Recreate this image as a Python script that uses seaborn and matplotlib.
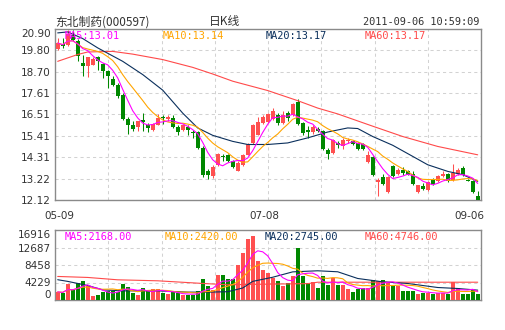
import numpy as np
import pandas as pd
import matplotlib
matplotlib.use("Agg")
import matplotlib.pyplot as plt
import seaborn as sns

# ---------------- data ----------------
opens = [19.87, 20.15, 20.10, 20.61, 20.30, 19.15, 19.02, 19.07, 19.45, 19.10,
         18.76, 18.35, 18.04, 17.53, 16.30, 15.95, 15.87, 16.23, 15.99, 15.70,
         15.95, 16.35, 16.30, 16.33, 15.85, 15.70, 15.87, 15.58, 15.61, 14.79,
         13.59, 13.33, 13.90, 14.38, 14.41, 14.11, 13.63, 13.90, 14.45, 15.05,
         15.47, 16.07, 16.13, 16.30, 16.47, 16.07, 16.59, 16.47, 17.15, 16.07,
         15.73, 15.61, 15.76, 15.68, 14.70, 14.53, 15.05, 14.88, 15.13, 15.17,
         15.05, 15.00, 14.07, 14.31, 13.04, 13.28, 12.53, 13.85, 13.45, 13.68,
         13.63, 13.45, 12.53, 12.84, 12.65, 13.16, 13.08, 13.33, 13.45, 13.16,
         13.45, 13.76, 13.16, 13.11, 12.31]
highs = [20.45, 20.44, 20.87, 20.87, 20.40, 19.58, 19.45, 19.45, 19.50, 19.15,
         18.81, 18.47, 18.13, 17.60, 16.37, 16.16, 16.19, 16.59, 16.07, 16.07,
         16.54, 16.47, 16.47, 16.47, 15.99, 15.99, 15.99, 15.73, 15.65, 14.88,
         13.73, 13.93, 14.53, 14.48, 14.48, 14.19, 14.11, 14.48, 15.05, 16.02,
         16.37, 16.47, 16.59, 16.84, 16.59, 16.67, 16.71, 17.10, 17.32, 16.10,
         15.90, 15.99, 15.85, 15.73, 14.79, 15.27, 15.13, 15.30, 15.30, 15.22,
         15.10, 15.05, 14.65, 14.36, 13.25, 13.45, 13.33, 13.93, 13.76, 13.80,
         13.68, 13.63, 12.91, 12.99, 13.08, 13.25, 13.42, 13.59, 13.51, 13.97,
         13.76, 13.85, 13.21, 13.16, 12.56]
lows = [19.80, 19.92, 20.05, 20.27, 19.27, 18.47, 18.42, 19.03, 18.81, 18.38,
        17.87, 17.96, 17.36, 16.25, 15.51, 15.65, 15.65, 15.65, 15.59, 15.65,
        15.95, 16.02, 16.16, 15.82, 15.47, 15.65, 15.44, 15.30, 14.75, 13.28,
        13.21, 13.25, 13.85, 14.11, 14.07, 13.76, 13.59, 13.85, 14.41, 15.00,
        15.44, 16.02, 16.07, 16.25, 15.99, 16.02, 16.16, 16.42, 15.99, 15.47,
        15.30, 15.51, 15.61, 14.70, 14.24, 14.48, 14.79, 14.75, 15.05, 14.93,
        14.70, 14.70, 14.02, 13.33, 12.31, 12.91, 12.48, 13.28, 13.42, 13.42,
        13.39, 12.91, 12.46, 12.65, 12.60, 12.91, 13.04, 13.28, 13.04, 13.11,
        13.42, 13.33, 13.08, 12.48, 12.12]
closes = [20.18, 20.01, 20.64, 20.35, 19.50, 18.98, 19.45, 19.38, 19.24, 18.76,
          18.47, 18.04, 17.44, 16.30, 15.95, 15.78, 16.19, 16.13, 15.82, 16.04,
          16.33, 16.33, 16.40, 15.85, 15.61, 15.95, 15.70, 15.56, 14.79, 13.39,
          13.39, 13.80, 14.48, 14.33, 14.11, 13.80, 14.02, 14.45, 15.00, 15.99,
          16.13, 16.37, 16.54, 16.71, 16.07, 16.47, 16.33, 17.05, 16.02, 15.56,
          15.61, 15.85, 15.68, 14.75, 14.48, 15.22, 14.93, 15.22, 15.22, 15.00,
          14.75, 14.75, 14.41, 13.39, 13.16, 12.94, 13.28, 13.33, 13.68, 13.51,
          13.42, 12.94, 12.87, 12.70, 13.04, 12.94, 13.33, 13.45, 13.08, 13.51,
          13.68, 13.39, 13.11, 12.53, 12.14]
volumes = [1960, 1720, 3830, 2380, 4150, 4560, 3340, 920, 1160, 1960,
           2210, 2210, 1960, 3830, 3180, 1580, 1160, 2790, 2210, 2540,
           2540, 1580, 1410, 1960, 1580, 1160, 1160, 1160, 2130, 5040,
           3340, 2380, 6010, 6010, 5040, 5040, 8430, 11410, 14730, 15460,
           9410, 7220, 6570, 5360, 4560, 3340, 4150, 5770, 12630, 5770,
           4000, 4390, 2790, 5770, 3590, 5200, 3590, 3590, 2540, 1960,
           2540, 3020, 3020, 4800, 4560, 4800, 4150, 3590, 3350, 2210,
           2210, 2210, 1570, 1730, 1730, 1570, 1730, 1730, 1570, 4390,
           3020, 1570, 1570, 2380, 1570]

ma20_idx = [0, 2, 5, 8, 13, 17, 21, 25, 28, 31, 35, 38, 42, 46, 50, 54, 58, 60, 63, 67, 71, 74, 78, 81, 84]
ma20_val = [20.70, 20.75, 20.41, 19.93, 19.24, 18.56, 17.76, 16.58, 15.82, 15.44, 15.13, 14.97, 14.97,
            15.05, 15.31, 15.61, 15.82, 15.79, 15.38, 14.93, 14.36, 13.93, 13.59, 13.42, 13.08]
ma60_idx = [0, 4, 6, 11, 15, 21, 27, 31, 35, 42, 48, 52, 56, 63, 69, 76, 84]
ma60_val = [19.24, 19.59, 19.72, 19.75, 19.61, 19.33, 18.93, 18.59, 18.22, 17.74, 17.22, 16.84,
            16.54, 15.91, 15.38, 14.87, 14.44]

vma20_idx = [0, 2, 6, 9, 13, 20, 26, 30, 34, 37, 39, 43, 47, 52, 56, 60, 65, 70, 76, 80, 84]
vma20_val = [4900, 4500, 3500, 2450, 2210, 2210, 1900, 1900, 2000, 2900, 4500, 5500, 6800, 7060,
             6820, 5200, 4390, 3990, 3020, 2780, 2380]
vma60_idx = [0, 6, 12, 20, 28, 34, 40, 50, 52, 84]
vma60_val = [5690, 5450, 4880, 4640, 4070, 3670, 3800, 3950, 4300, 4300]

price_ticks = [20.90, 19.80, 18.70, 17.61, 16.51, 15.41, 14.31, 13.22, 12.12]
vol_ticks = [0, 4229, 8458, 12687, 16916]
date_labels = ["05-09", "07-08", "09-06"]
stock_name = "东北制药(000597)"
chart_kind = "日K线"
timestamp = "2011-09-06 10:59:09"
price_ma_labels = ["MA5:13.01", "MA10:13.14", "MA20:13.17", "MA60:13.17"]
vol_ma_labels = ["MA5:2168.00", "MA10:2420.00", "MA20:2745.00", "MA60:4746.00"]

# ---------------- style ----------------
sns.set_style("white")
plt.rcParams["font.family"] = ["DejaVu Sans", "Noto Sans CJK SC"]

RED = "#FF5050"
GREEN = "#008800"
C_MA5 = "#FF00FF"
C_MA10 = "#FFA500"
C_MA20 = "#0A2F5C"
C_MA60 = "#FF4A4A"
GRID = "#D2D2D2"
FRAME = "#8A8A8A"
TXT = "#333333"
LW = 0.8

n = len(closes)
df = pd.DataFrame({"idx": np.arange(n), "open": opens, "high": highs,
                   "low": lows, "close": closes, "vol": volumes})
df["ma5"] = df["close"].rolling(5, min_periods=1).mean()
df["ma10"] = df["close"].rolling(10, min_periods=1).mean()
df["vma5"] = df["vol"].rolling(5, min_periods=1).mean()
df["vma10"] = df["vol"].rolling(10, min_periods=1).mean()
up = df["close"] >= df["open"]
colors = np.where(up, RED, GREEN)

W, H = 505, 330
fig = plt.figure(figsize=(W / 100, H / 100), dpi=100)
fig.patch.set_facecolor("white")
ax = fig.add_axes([55 / W, 1 - 200 / H, 426 / W, 171 / H])
axv = fig.add_axes([55 / W, 1 - 300 / H, 426 / W, 70 / H])

xl = (-0.54, 84.66)
vgrid = [xl[0] + (xl[1] - xl[0]) * i / 8 for i in range(1, 8)]

for a in (ax, axv):
    a.set_xlim(*xl)
    a.set_xticks(vgrid)
    a.set_xticklabels([])
    a.tick_params(length=0, pad=3, labelsize=7.5, labelcolor=TXT)
    a.grid(True, color=GRID, linestyle=(0, (3, 3)), linewidth=0.75)
    a.set_axisbelow(True)
    for s in a.spines.values():
        s.set_color(FRAME)
        s.set_linewidth(1.0)

# ---- price panel ----
ax.set_ylim(price_ticks[-1], price_ticks[0])
ax.set_yticks(price_ticks)
ax.set_yticklabels([f"{t:.2f}" for t in price_ticks])
ax.get_yticklabels()[0].set_va("top")

ax.vlines(df["idx"], df["low"], df["high"], colors=colors, linewidth=0.75, zorder=3)
body_bottom = np.minimum(df["open"], df["close"])
body_h = np.maximum((df["close"] - df["open"]).abs(), 0.03)
ax.bar(df["idx"], body_h, bottom=body_bottom, width=0.78, color=colors, linewidth=0, zorder=3)

sns.lineplot(x=ma60_idx, y=ma60_val, ax=ax, color=C_MA60, linewidth=LW, zorder=4)
sns.lineplot(x=ma20_idx, y=ma20_val, ax=ax, color=C_MA20, linewidth=LW, zorder=4)
sns.lineplot(data=df, x="idx", y="ma10", ax=ax, color=C_MA10, linewidth=LW, zorder=4)
sns.lineplot(data=df, x="idx", y="ma5", ax=ax, color=C_MA5, linewidth=LW, zorder=4)
ax.set_xlabel("")
ax.set_ylabel("")

lab_x = [65, 163, 266, 365]
for lbl, xp, c in zip(price_ma_labels, lab_x, [C_MA5, C_MA10, C_MA20, C_MA60]):
    ax.text((xp - 55) / 426, 1 - 7 / 171, lbl, transform=ax.transAxes, color=c,
            fontsize=7.4, family="DejaVu Sans Mono", va="center", ha="left", zorder=6)

# ---- volume panel ----
axv.set_ylim(vol_ticks[0], vol_ticks[-1])
axv.set_yticks(vol_ticks)
axv.set_yticklabels([str(t) for t in vol_ticks])
axv.get_yticklabels()[0].set_va("bottom")
axv.get_yticklabels()[-1].set_va("top")

axv.bar(df["idx"], df["vol"], width=0.78, color=colors, linewidth=0, zorder=3)
sns.lineplot(x=vma60_idx, y=vma60_val, ax=axv, color=C_MA60, linewidth=LW, zorder=4)
sns.lineplot(x=vma20_idx, y=vma20_val, ax=axv, color=C_MA20, linewidth=LW, zorder=4)
sns.lineplot(data=df, x="idx", y="vma10", ax=axv, color=C_MA10, linewidth=LW, zorder=4)
sns.lineplot(data=df, x="idx", y="vma5", ax=axv, color=C_MA5, linewidth=LW, zorder=4)
axv.set_xlabel("")
axv.set_ylabel("")

vlab_x = [65, 165, 265, 365]
for lbl, xp, c in zip(vol_ma_labels, vlab_x, [C_MA5, C_MA10, C_MA20, C_MA60]):
    axv.text((xp - 55) / 426, 1 - 6.7 / 70, lbl, transform=axv.transAxes, color=c,
             fontsize=7.4, family="DejaVu Sans Mono", va="center", ha="left", zorder=6)

# ---- header and date labels ----
fig.text(55 / W, 1 - 22 / H, stock_name, fontsize=8.5, color=TXT,
         family=["Noto Sans CJK SC"], ha="left", va="center")
fig.text(225 / W, 1 - 22 / H, chart_kind, fontsize=8.5, color=TXT,
         family=["Noto Sans CJK SC"], ha="center", va="center")
fig.text(479 / W, 1 - 22 / H, timestamp, fontsize=7.4, color=TXT,
         family="DejaVu Sans Mono", ha="right", va="center")
for lbl, xp in zip(date_labels, [59, 264, 469]):
    fig.text(xp / W, 1 - 216 / H, lbl, fontsize=7.5, color=TXT, ha="center", va="center")

fig.savefig("out.png", dpi=100, facecolor="white")
